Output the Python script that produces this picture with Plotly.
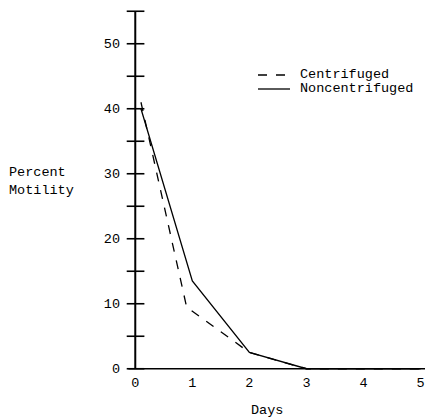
import plotly.graph_objects as go

# data
days_cent = [0.1, 0.9, 2, 3, 4, 5]
motility_cent = [41, 9.5, 2.5, 0, 0, 0]
days_non = [0.1, 1, 2, 3, 4, 5]
motility_non = [40, 13.5, 2.5, 0, 0, 0]

series_names = ["Centrifuged", "Noncentrifuged"]
y_ticks = [0, 10, 20, 30, 40, 50]
y_minor = [0, 5, 10, 15, 20, 25, 30, 35, 40, 45, 50, 55]
x_ticks = [0, 1, 2, 3, 4, 5]

FONT = "Liberation Mono, Courier New, monospace"
FS = 13.5

# page has an 8px body margin, so the figure is 8px smaller than the window
W, H = 425, 412
L, R, T, B = 113, 1, 0, 48
PW, PH = W - L - R, H - T - B


def px(x):
    return (x - L) / PW


def py(y):
    return 1 - (y - T) / PH


fig = go.Figure()
fig.add_trace(go.Scatter(x=days_cent, y=motility_cent, mode="lines", name=series_names[0],
                         line=dict(color="black", width=1.3, dash="dash"), showlegend=False))
fig.add_trace(go.Scatter(x=days_non, y=motility_non, mode="lines", name=series_names[1],
                         line=dict(color="black", width=1.3), showlegend=False))

shapes = []
# y axis line and crossing tick marks
shapes.append(dict(type="line", xref="x", yref="y", x0=0, x1=0, y0=0, y1=max(y_minor),
                   line=dict(color="black", width=2)))
for v in y_minor:
    shapes.append(dict(type="line", xref="x", yref="y", x0=-0.15, x1=0.16, y0=v, y1=v,
                       line=dict(color="black", width=1.6)))
# x axis line
shapes.append(dict(type="line", xref="x", yref="y", x0=-0.12, x1=5.3, y0=0, y1=0,
                   line=dict(color="black", width=1.4)))

# hand-made legend (tight rows, as in the reference)
legend_rows = [66, 80]
dashes = ["dash", "solid"]
annotations = []
for name, row, d in zip(series_names, legend_rows, dashes):
    shapes.append(dict(type="line", xref="paper", yref="paper", x0=px(250), x1=px(282),
                       y0=py(row + 1), y1=py(row + 1),
                       line=dict(color="black", width=1.3, dash=d)))
    annotations.append(dict(text=name, xref="paper", yref="paper", x=px(290), y=py(row),
                            xanchor="left", yanchor="middle", showarrow=False,
                            font=dict(family=FONT, size=FS)))

annotations += [
    dict(text="Percent<br>Motility", xref="paper", yref="paper", x=px(-1), y=py(173),
         xanchor="left", yanchor="middle", showarrow=False, align="left",
         font=dict(family=FONT, size=FS)),
    dict(text="Days", xref="x", yref="paper", x=2.3, y=py(402),
         xanchor="center", yanchor="middle", showarrow=False,
         font=dict(family=FONT, size=FS)),
]

fig.update_layout(
    width=W, height=H,
    margin=dict(l=L, r=R, t=T, b=B),
    paper_bgcolor="white", plot_bgcolor="white",
    font=dict(family=FONT, size=FS, color="black"),
    shapes=shapes,
    annotations=annotations,
    showlegend=False,
    xaxis=dict(range=[-0.25, 5.2], showgrid=False, zeroline=False, showline=False,
               tickvals=x_ticks, ticktext=[str(v) for v in x_ticks], ticks="",
               ticklabelstandoff=0),
    yaxis=dict(range=[-0.5, 55.5], showgrid=False, zeroline=False, showline=False,
               tickvals=y_ticks, ticktext=[str(v) for v in y_ticks], ticks="",
               ticklabelstandoff=0),
)

fig.write_html("out.html")
